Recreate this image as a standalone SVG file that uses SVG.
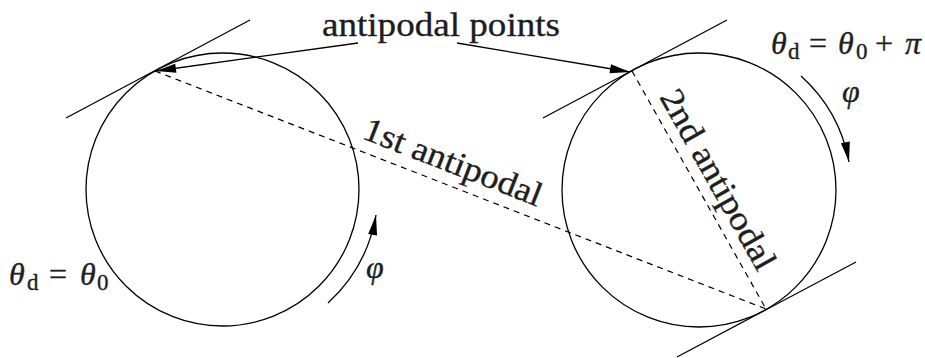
<svg xmlns="http://www.w3.org/2000/svg" width="925" height="358" viewBox="0 0 925 358">
  <defs>
    <marker id="arrow" markerUnits="userSpaceOnUse" markerWidth="21" markerHeight="10" refX="20" refY="4.5" orient="auto" overflow="visible">
      <path d="M0,0 L20,4.5 L0,9 Z" fill="#000"/>
    </marker>
    <style>
      .ln { fill: none; stroke: #000; stroke-width: 1.3; }
      .dash { fill: none; stroke: #000; stroke-width: 1.2; stroke-dasharray: 6 5; }
      text { font-family: "Liberation Serif", "Times New Roman", serif; fill: #1e1e1e; stroke: #1e1e1e; stroke-width: 0.35; }
      .txt { font-size: 34px; }
      .mi { font-style: italic; font-size: 32px; }
      .mr { font-size: 32px; }
      .sub { font-size: 23px; }
    </style>
  </defs>

  <g id="circle-left">
    <circle class="ln" cx="222.5" cy="189.5" r="136.5"/>
    <line class="ln" x1="66" y1="118" x2="250" y2="20"/>
  </g>

  <g id="circle-right">
    <circle class="ln" cx="699" cy="190" r="137"/>
    <line class="ln" x1="543" y1="118" x2="727" y2="20"/>
    <line class="ln" x1="677" y1="357" x2="856" y2="262"/>
  </g>

  <g id="connectors">
    <line class="dash" x1="155" y1="71" x2="766" y2="309"/>
    <line class="dash" x1="632" y1="71" x2="766" y2="309"/>
    <line class="ln" x1="358" y1="43" x2="156" y2="71" marker-end="url(#arrow)"/>
    <line class="ln" x1="457" y1="43" x2="630" y2="72" marker-end="url(#arrow)"/>
    <path class="ln" d="M801,76 A153,153 0 0 1 849,162" marker-end="url(#arrow)"/>
    <path class="ln" d="M328,303 A155,155 0 0 0 376,215" marker-end="url(#arrow)"/>
  </g>

  <g id="label-antipodal-points">
    <text class="txt" x="322" y="36" textLength="238" lengthAdjust="spacingAndGlyphs">antipodal points</text>
  </g>

  <g id="label-1st">
    <text class="txt" transform="translate(361,138) rotate(21.3)" x="0" y="0" textLength="189" lengthAdjust="spacingAndGlyphs">1st antipodal</text>
  </g>

  <g id="label-2nd">
    <text class="txt" transform="translate(659,97) rotate(60.6)" x="0" y="0" textLength="202" lengthAdjust="spacingAndGlyphs">2nd antipodal</text>
  </g>

  <g id="label-theta-right">
    <text class="mi" x="771" y="54">θ</text>
    <text class="sub" x="788" y="59">d</text>
    <text class="mr" x="809" y="54">=</text>
    <text class="mi" x="838" y="54">θ</text>
    <text class="sub" x="856" y="59">0</text>
    <text class="mr" x="875" y="54">+</text>
    <text class="mi" x="905" y="54">π</text>
  </g>

  <g id="label-theta-left">
    <text class="mi" x="9" y="285">θ</text>
    <text class="sub" x="27" y="290">d</text>
    <text class="mr" x="49" y="285">=</text>
    <text class="mi" x="80" y="285">θ</text>
    <text class="sub" x="97" y="290">0</text>
  </g>

  <g id="label-phi-right">
    <text class="mi" x="842" y="102">φ</text>
  </g>

  <g id="label-phi-left">
    <text class="mi" x="366" y="278">φ</text>
  </g>
</svg>
